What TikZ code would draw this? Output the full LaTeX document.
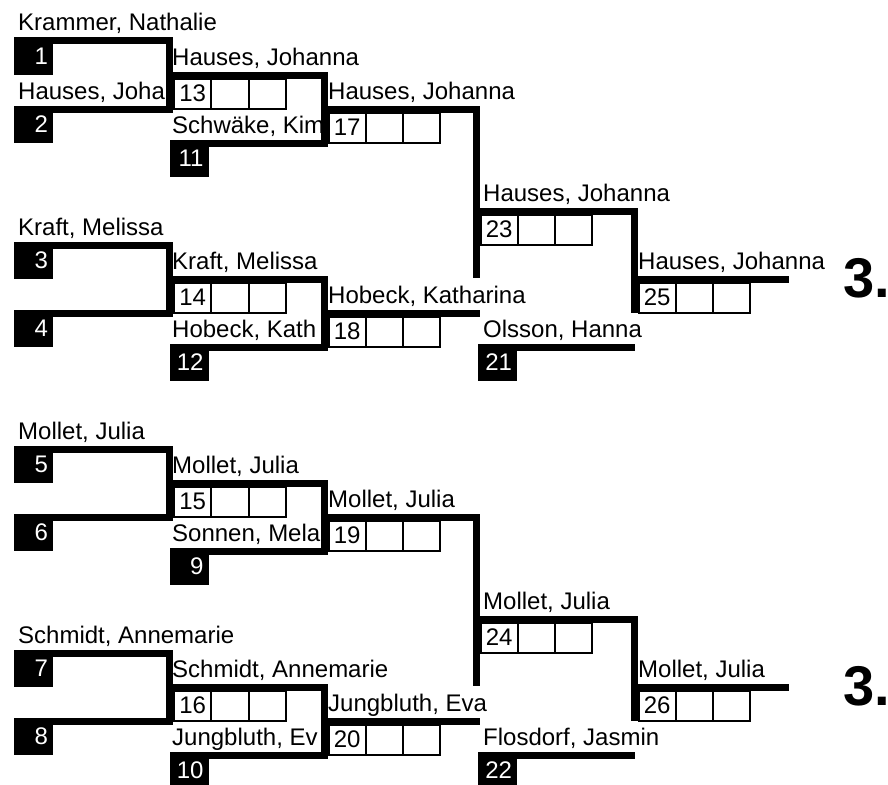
\documentclass[tikz,border=0pt]{standalone}
\usepackage{fontspec}
\setmainfont{Liberation Sans}
\usetikzlibrary{positioning}
\newcommand{\namefont}{\fontsize{24pt}{28pt}\selectfont}
% three score cells under a match line, the first one carries the match number
\newcommand{\cells}[3]{%
  \node[cell, anchor=north west] (#1a) at (#2) {#3};
  \node[cell, right=0pt of #1a] (#1b) {};
  \node[cell, right=0pt of #1b] (#1c) {};}
\tikzset{
  bar/.style    = {line width=7pt},
  seed/.style   = {fill=black, text=white, anchor=north west, inner sep=5pt, outer sep=0pt,
                   text width=29pt, align=right, minimum height=37pt, font=\namefont},
  cell/.style   = {draw, line width=2pt, inner sep=0pt, outer sep=0pt,
                   minimum width=37.3pt, minimum height=30pt, font=\namefont},
  player/.style = {anchor=base west, inner sep=0pt, font=\namefont},
  place/.style  = {anchor=base west, inner sep=0pt, font=\bfseries\fontsize{56pt}{60pt}\selectfont},
}

\begin{document}
\begin{tikzpicture}[x=1pt, y=-1pt]
  \useasboundingbox (0,0) rectangle (888,784);

  % upper bracket
  \node[player] (n1)  at (18,31)   {Krammer, Nathalie};
  \node[player] (n2)  at (18,99)   {Hauses, Joha};
  \node[player] (n3)  at (18,235)  {Kraft, Melissa};
  \node[player] (n13) at (172,65)  {Hauses, Johanna};
  \node[player] (n11) at (172,133) {Schwäke, Kim};
  \node[player] (n14) at (172,269) {Kraft, Melissa};
  \node[player] (n12) at (172,337) {Hobeck, Kath};
  \node[player] (n17) at (328,99)  {Hauses, Johanna};
  \node[player] (n18) at (328,303) {Hobeck, Katharina};
  \node[player] (n23) at (483,201) {Hauses, Johanna};
  \node[player] (n21) at (483,337) {Olsson, Hanna};
  \node[player] (n25) at (638,269) {Hauses, Johanna};
  \node[place]  (p1)  at (843,297) {3.};

  \draw[bar] (14,41) -| (169.5,109) -- (14,109);
  \draw[bar] (14,245) -| (169.5,313) -- (14,313);
  \draw[bar] (169.5,75) -| (324,143) -- (169.5,143);
  \draw[bar] (169.5,279) -| (324,347) -- (169.5,347);
  \draw[bar] (324,109) -| (476,278);
  \draw[bar] (324,313) -- (479.5,313);
  \draw[bar] (476,211) -| (634,313);
  \draw[bar] (478,347) -- (635,347);
  \draw[bar] (634,279) -- (789,279);

  \node[seed] (s1)  at (14,37.5)    {1};
  \node[seed] (s2)  at (14,105.5)   {2};
  \node[seed] (s3)  at (14,241.5)   {3};
  \node[seed] (s4)  at (14,309.5)   {4};
  \node[seed] (s11) at (169.5,139.5) {11};
  \node[seed] (s12) at (169.5,343.5) {12};
  \node[seed] (s21) at (478,343.5)  {21};

  \cells{m13}{174,78.5}{13}
  \cells{m14}{174,282.5}{14}
  \cells{m17}{328.5,112.5}{17}
  \cells{m18}{328.5,316.5}{18}
  \cells{m23}{480.5,214.5}{23}
  \cells{m25}{638.5,282.5}{25}

  % lower bracket
  \begin{scope}[yshift=-408pt]
    \node[player] (n5)  at (18,31)   {Mollet, Julia};
    \node[player] (n7)  at (18,235)  {Schmidt, Annemarie};
    \node[player] (n15) at (172,65)  {Mollet, Julia};
    \node[player] (n9)  at (172,133) {Sonnen, Mela};
    \node[player] (n16) at (172,269) {Schmidt, Annemarie};
    \node[player] (n10) at (172,337) {Jungbluth, Ev};
    \node[player] (n19) at (328,99)  {Mollet, Julia};
    \node[player] (n20) at (328,303) {Jungbluth, Eva};
    \node[player] (n24) at (483,201) {Mollet, Julia};
    \node[player] (n22) at (483,337) {Flosdorf, Jasmin};
    \node[player] (n26) at (638,269) {Mollet, Julia};
    \node[place]  (p2)  at (843,297) {3.};

    \draw[bar] (14,41) -| (169.5,109) -- (14,109);
    \draw[bar] (14,245) -| (169.5,313) -- (14,313);
    \draw[bar] (169.5,75) -| (324,143) -- (169.5,143);
    \draw[bar] (169.5,279) -| (324,347) -- (169.5,347);
    \draw[bar] (324,109) -| (476,278);
    \draw[bar] (324,313) -- (479.5,313);
    \draw[bar] (476,211) -| (634,313);
    \draw[bar] (478,347) -- (635,347);
    \draw[bar] (634,279) -- (789,279);

    \node[seed] (s5)  at (14,37.5)    {5};
    \node[seed] (s6)  at (14,105.5)   {6};
    \node[seed] (s7)  at (14,241.5)   {7};
    \node[seed] (s8)  at (14,309.5)   {8};
    \node[seed] (s9)  at (169.5,139.5) {9};
    \node[seed] (s10) at (169.5,343.5) {10};
    \node[seed] (s22) at (478,343.5)  {22};

    \cells{m15}{174,78.5}{15}
    \cells{m16}{174,282.5}{16}
    \cells{m19}{328.5,112.5}{19}
    \cells{m20}{328.5,316.5}{20}
    \cells{m24}{480.5,214.5}{24}
    \cells{m26}{638.5,282.5}{26}
  \end{scope}
\end{tikzpicture}
\end{document}
